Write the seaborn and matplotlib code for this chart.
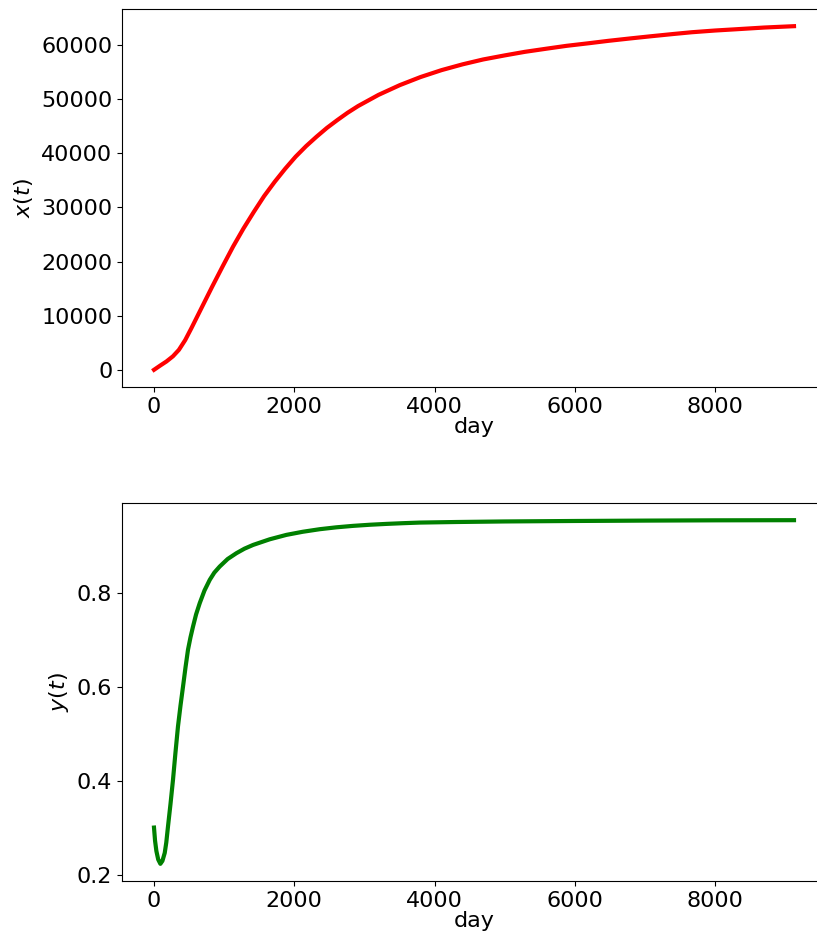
import matplotlib
matplotlib.use("Agg")
import matplotlib.pyplot as plt
import seaborn as sns
import pandas as pd

# x(t) series
days_x = [0, 90, 177, 270, 355, 445, 533, 680, 830, 980, 1127, 1275, 1425, 1570,
          1722, 1870, 2019, 2170, 2317, 2465, 2614, 2760, 2910, 3200, 3505, 3800,
          4100, 4400, 4693, 5000, 5288, 5600, 5883, 6200, 6477, 6800, 7071, 7400,
          7666, 8000, 8260, 8700, 9125]
x_vals = [0, 800, 1540, 2500, 3690, 5500, 7690, 11500, 15380, 19150, 22760, 26100,
          29220, 32100, 34760, 37150, 39380, 41350, 43070, 44700, 46150, 47500,
          48740, 50800, 52610, 54100, 55380, 56450, 57350, 58100, 58760, 59350,
          59870, 60350, 60790, 61250, 61620, 62050, 62380, 62700, 62900, 63250, 63500]

# y(t) series
days_y = [0, 15, 34, 60, 91, 120, 153, 175, 200, 235, 271, 305, 342, 378, 414, 450,
          485, 520, 556, 600, 652, 720, 795, 860, 937, 1050, 1175, 1290, 1413, 1650,
          1888, 2120, 2364, 2600, 2839, 3080, 3315, 3550, 3790, 4300, 5000, 6000,
          7000, 8000, 9125]
y_vals = [0.300, 0.272, 0.250, 0.232, 0.2228, 0.229, 0.246, 0.268, 0.303, 0.350,
          0.402, 0.458, 0.5155, 0.560, 0.6006, 0.642, 0.679, 0.705, 0.728, 0.754,
          0.778, 0.805, 0.8277, 0.843, 0.856, 0.872, 0.8844, 0.894, 0.902, 0.914,
          0.9234, 0.930, 0.9355, 0.9395, 0.9426, 0.9450, 0.9468, 0.9483, 0.9496,
          0.9508, 0.9520, 0.9530, 0.9538, 0.9544, 0.9547]

df_x = pd.DataFrame({"day": days_x, "x": x_vals})
df_y = pd.DataFrame({"day": days_y, "y": y_vals})

fig = plt.figure(figsize=(8.17, 9.34), dpi=100)
W, H = 817, 934
ax1 = fig.add_axes([122 / W, (H - 387) / H, 704 / W, 378 / H])
ax2 = fig.add_axes([122 / W, (H - 881) / H, 704 / W, 378 / H])

sns.lineplot(data=df_x, x="day", y="x", ax=ax1, color="red", linewidth=3,
             estimator=None, sort=False)
sns.lineplot(data=df_y, x="day", y="y", ax=ax2, color="green", linewidth=3,
             estimator=None, sort=False)

ax1.set_ylabel("$x(t)$", fontsize=16)
ax2.set_ylabel("$y(t)$", fontsize=16)
for ax in (ax1, ax2):
    ax.set_xlabel("day", fontsize=16, labelpad=0)
    ax.tick_params(labelsize=16)
    ax.set_xticks([0, 2000, 4000, 6000, 8000])

ax1.set_yticks([0, 10000, 20000, 30000, 40000, 50000, 60000])
ax2.set_yticks([0.2, 0.4, 0.6, 0.8])

fig.savefig("out.png", dpi=100)
